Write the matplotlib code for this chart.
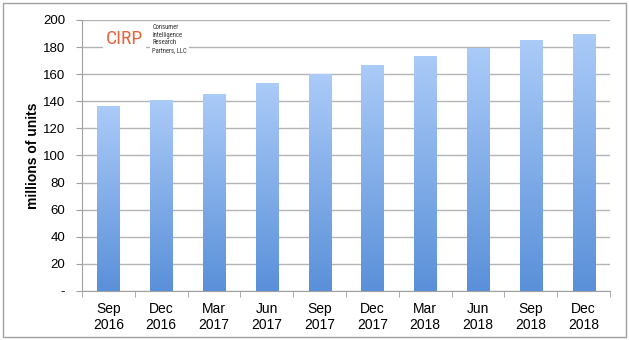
import numpy as np
import matplotlib
matplotlib.use("Agg")
import matplotlib.pyplot as plt
from matplotlib import font_manager as fm
from matplotlib.colors import LinearSegmentedColormap
from matplotlib.patches import Rectangle

quarters = ["Sep\n2016", "Dec\n2016", "Mar\n2017", "Jun\n2017", "Sep\n2017",
            "Dec\n2017", "Mar\n2018", "Jun\n2018", "Sep\n2018", "Dec\n2018"]
units = [136.5, 141, 145.5, 153.5, 160, 167, 173.5, 179.5, 185.5, 190]
yticks = [0, 20, 40, 60, 80, 100, 120, 140, 160, 180, 200]
ylabels = ["-"] + [str(v) for v in yticks[1:]]

names = {f.name for f in fm.fontManager.ttflist}
narrow = next((n for n in ["Roboto Condensed", "Liberation Sans Narrow",
                           "Open Sans Condensed"]
               if n in names), "Liberation Sans")
plt.rcParams["font.family"] = ["Liberation Sans", "DejaVu Sans"]

grad = LinearSegmentedColormap.from_list("bar", ["#5a90d9", "#abcbf8"])

fig = plt.figure(figsize=(6.29, 3.40), dpi=100)
ax = fig.add_axes([82 / 629, 1 - 291 / 340, 528 / 629, 271 / 340])

x = np.arange(len(quarters))
w = 0.42
bars = ax.bar(x, units, w, color="none", zorder=2)
g = np.linspace(0, 1, 256).reshape(-1, 1)
for b in bars:
    im = ax.imshow(g, cmap=grad, origin="lower", aspect="auto", zorder=2,
                   extent=[b.get_x(), b.get_x() + b.get_width(), 0, b.get_height()])
    im.set_clip_path(b)

ax.set_xlim(-0.5, len(quarters) - 0.5)
ax.set_ylim(0, 200)
ax.set_yticks(yticks)
ax.set_yticklabels(ylabels, fontsize=9.5)
ax.set_xticks(x)
ax.set_xticklabels(quarters, fontsize=10, linespacing=1.15)
ax.set_xticks(np.arange(-0.5, len(quarters)), minor=True)
ax.tick_params(axis="x", which="major", length=0, pad=8)
ax.tick_params(axis="x", which="minor", length=4, color="#a0a0a0")
ax.tick_params(axis="y", length=4, color="#a0a0a0", pad=8)
ax.grid(axis="y", color="#b4b4b4", lw=1, zorder=1)
for s in ["top", "right"]:
    ax.spines[s].set_visible(False)
for s in ["left", "bottom"]:
    ax.spines[s].set_color("#a0a0a0")
ax.set_ylabel("millions of units", fontsize=10, fontweight="bold", labelpad=2)

# CIRP logo
ax.text(0.045, 0.93, "CIRP", transform=ax.transAxes, family=[narrow, "DejaVu Sans"],
        fontsize=14, color="#e6643c", va="center", ha="left", zorder=4,
        bbox=dict(fc="white", ec="none", pad=2))
ax.text(0.133, 0.93, "Consumer\nIntelligence\nResearch\nPartners, LLC",
        transform=ax.transAxes, family=[narrow, "DejaVu Sans"], fontsize=4.8,
        color="#333333", va="center", ha="left", linespacing=1.15, zorder=4,
        bbox=dict(fc="white", ec="none", pad=1.5))

fig.patches.append(Rectangle((3 / 629, 3 / 340), 623 / 629, 334 / 340,
                             transform=fig.transFigure, fill=False,
                             ec="#a0a0a0", lw=1))
fig.savefig("out.png", dpi=100)
